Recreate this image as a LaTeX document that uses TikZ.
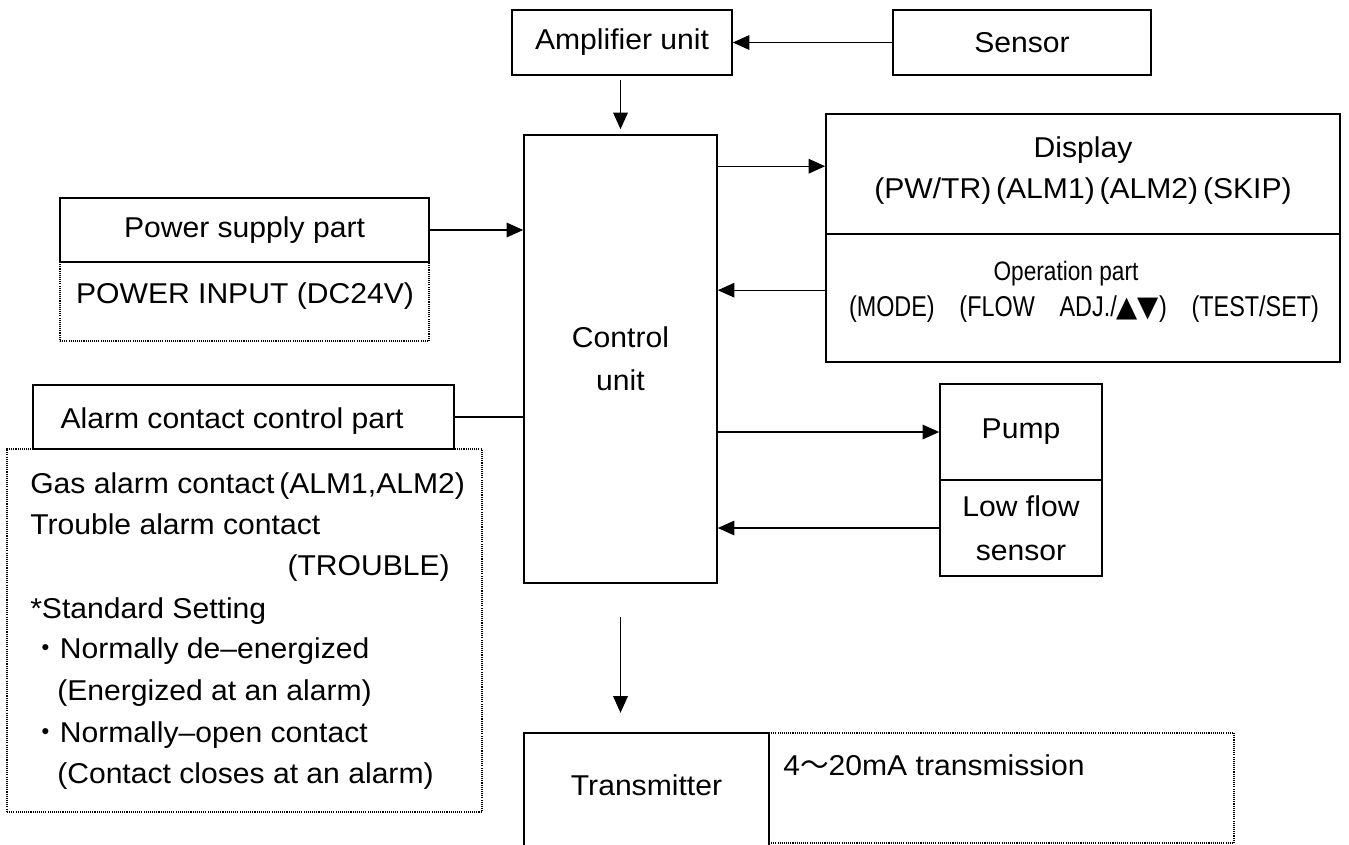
\documentclass[tikz,border=0pt]{standalone}
\usepackage{graphicx}
\usepackage{fontspec}
\setmainfont[FakeStretch=1.05]{Liberation Sans}
\newfontfamily\cjk{Noto Sans CJK JP}
\newfontfamily\condfont[FakeStretch=0.85]{Liberation Sans}
\newfontfamily\symfont{DejaVu Sans}
\usetikzlibrary{arrows.meta,calc}
\begin{document}
\begin{tikzpicture}[x=0.75pt,y=-0.75pt,
  box/.style={draw, line width=1.2pt, inner sep=0pt, fill=white, font=\fontsize{21.5}{26}\selectfont},
  dotbox/.style={draw, line width=1pt, dash pattern=on 0.8pt off 0.8pt, inner sep=0pt},
  txt/.style={inner sep=0pt, font=\fontsize{21.5}{26}\selectfont},
  ctxt/.style={inner sep=0pt, font=\condfont\fontsize{20}{24}\selectfont},
  arr/.style={line width=0.9pt, -{Triangle[length=12.5pt,width=11pt]}},
  link/.style={line width=0.9pt}]
\useasboundingbox (0,0) rectangle (1349,844);

% top row
\node[box, minimum width=165pt, minimum height=48.75pt] (amp) at (622,42.5) {Amplifier unit};
\node[box, minimum width=193.5pt, minimum height=48.75pt] (sensor) at (1022,42.5) {Sensor};

% control unit
\node[box, minimum width=144.75pt, minimum height=336pt, align=center,
      font=\fontsize{21.5}{32}\selectfont] (ctrl) at (620.5,359) {Control\\unit};

% display / operation
\node[box, minimum width=385.5pt, minimum height=90pt] (disp) at (1083,174) {};
\node[txt, anchor=base] (dispA) at (1083,157) {Display};
\node[txt, anchor=base] (dispB) at (1083,198) {(PW/TR)\,(ALM1)\,(ALM2)\,(SKIP)};
\node[box, minimum width=385.5pt, minimum height=96pt] (oper) at (1083,298) {};
\node[ctxt, anchor=base] (operA) at (1066,280) {Operation part};
\node[inner sep=0pt, anchor=base] (operB) at (1084,316) {\resizebox{352.5pt}{\height}{\condfont\fontsize{21.5}{24}\selectfont (MODE)\hspace{0.9em}(FLOW\hspace{0.9em}ADJ./{\symfont ▲▼})\hspace{0.9em}(TEST/SET)}};

% power supply
\node[dotbox, minimum width=276.75pt, minimum height=59.25pt] (pin) at (244.5,301.5) {};
\node[box, minimum width=276.75pt, minimum height=48pt] (power) at (244.5,230) {Power supply part};
\node[txt, anchor=base] (pinT) at (245,303) {POWER INPUT (DC24V)};

% alarm contact
\node[dotbox, minimum width=356.25pt, minimum height=272.25pt] (alarmd) at (244.5,630.5) {};
\node[box, minimum width=315.75pt, minimum height=48pt] (alarm) at (243.5,417) {};
\node[txt, anchor=base] (alarmT) at (232,428) {Alarm contact control part};
\node[txt, anchor=base west] (al1) at (30,493) {Gas alarm contact\,(ALM1,ALM2)};
\node[txt, anchor=base west] (al2) at (30,534) {Trouble alarm contact};
\node[txt, anchor=base east] (al3) at (450,575) {(TROUBLE)};
\node[txt, anchor=base west] (al4) at (30,618) {*Standard Setting};
\node[txt, anchor=base west] (al5) at (31,658) {{\cjk ・}Normally de–energized};
\node[txt, anchor=base west] (al6) at (57,700) {(Energized at an alarm)};
\node[txt, anchor=base west] (al7) at (31,742) {{\cjk ・}Normally–open contact};
\node[txt, anchor=base west] (al8) at (57,783) {(Contact closes at an alarm)};

% pump / low flow sensor
\node[box, minimum width=121.5pt, minimum height=72pt] (pump) at (1021,432) {Pump};
\node[box, minimum width=121.5pt, minimum height=72pt, align=center,
      font=\fontsize{21.5}{33}\selectfont] (lowflow) at (1021,528) {Low flow\\sensor};

% transmitter
\node[dotbox, minimum width=348.75pt, minimum height=82.5pt] (txd) at (1001.5,788) {};
\node[box, minimum width=183.75pt, minimum height=95.25pt] (trans) at (646.5,796.5) {};
\node[txt, anchor=base] (transT) at (646.5,795) {Transmitter};
\node[txt, anchor=base west] (txdT) at (783,775) {4{\cjk ～}20mA transmission};

% connectors
\draw[arr] (sensor.west) -- (amp.east);
\draw[arr] ($(amp.south -| ctrl.north)+(0,4)$) -- ($(ctrl.north)+(0,-5)$);
\draw[arr] ($(ctrl.north east)+(0,32)$) -- ($(disp.north west)+(0,53)$);
\draw[arr] ($(oper.north west)+(0,57)$) -- ($(ctrl.north east)+(0,156)$);
\draw[arr] (power.east) -- (power.east -| ctrl.west);
\draw[link] (alarm.east) -- (alarm.east -| ctrl.west);
\draw[arr] (pump.west -| ctrl.east) -- (pump.west);
\draw[arr] (lowflow.west) -- (lowflow.west -| ctrl.east);
\draw[arr] ($(ctrl.south)+(0,33)$) -- ($(ctrl.south)+(0,129)$);
\end{tikzpicture}
\end{document}
